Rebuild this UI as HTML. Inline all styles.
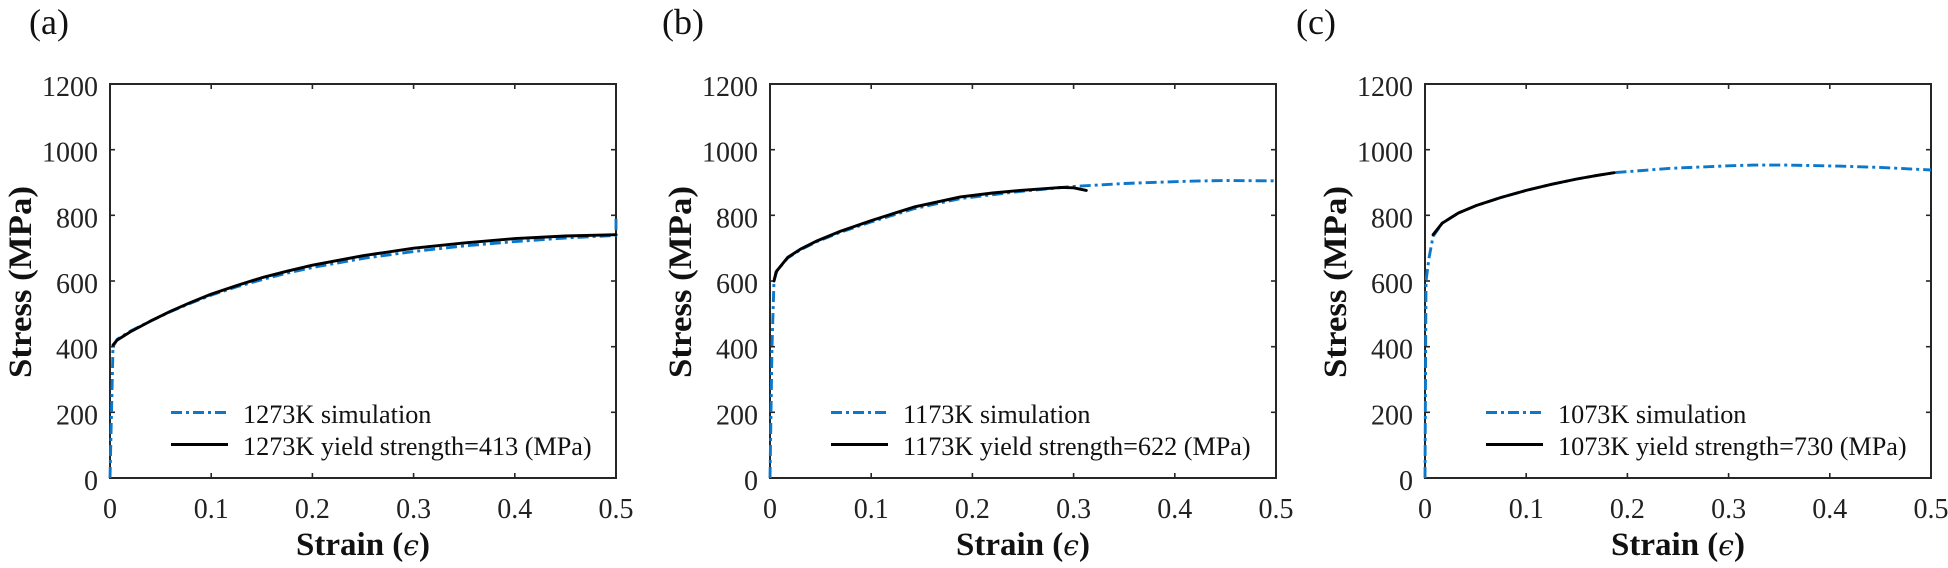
<!DOCTYPE html>
<html>
<head>
<meta charset="utf-8">
<style>
  html, body { margin: 0; padding: 0; background: #ffffff; }
  svg { display: block; }
  text { font-family: "Liberation Serif", "DejaVu Serif", serif; fill: #222; }
  .tk { font-size: 28px; }
  .lg { font-size: 26.2px; fill: #111; }
  .ttl { font-size: 36px; fill: #111; }
  .lab { font-size: 33px; font-weight: bold; fill: #111; }
  .ax { fill: none; stroke: #262626; stroke-width: 2; }
  .tick { stroke: #262626; stroke-width: 1.6; }
  .blk { fill: none; stroke: #000; stroke-width: 2.9; stroke-linejoin: round; stroke-linecap: round; }
  .blu { fill: none; stroke: #0b78cc; stroke-width: 2.9; stroke-dasharray: 11 4 3 4; stroke-linejoin: round; }
</style>
</head>
<body>
<svg width="1948" height="568" viewBox="0 0 1948 568" xmlns="http://www.w3.org/2000/svg">
  <defs>
    <g id="frame">
      <g class="tick">
        <line x1="0" y1="412.3" x2="5" y2="412.3"/><line x1="506" y1="412.3" x2="501" y2="412.3"/>
        <line x1="0" y1="346.7" x2="5" y2="346.7"/><line x1="506" y1="346.7" x2="501" y2="346.7"/>
        <line x1="0" y1="281" x2="5" y2="281"/><line x1="506" y1="281" x2="501" y2="281"/>
        <line x1="0" y1="215.3" x2="5" y2="215.3"/><line x1="506" y1="215.3" x2="501" y2="215.3"/>
        <line x1="0" y1="149.7" x2="5" y2="149.7"/><line x1="506" y1="149.7" x2="501" y2="149.7"/>
        <line x1="101.2" y1="478" x2="101.2" y2="473"/><line x1="101.2" y1="84" x2="101.2" y2="89"/>
        <line x1="202.4" y1="478" x2="202.4" y2="473"/><line x1="202.4" y1="84" x2="202.4" y2="89"/>
        <line x1="303.6" y1="478" x2="303.6" y2="473"/><line x1="303.6" y1="84" x2="303.6" y2="89"/>
        <line x1="404.8" y1="478" x2="404.8" y2="473"/><line x1="404.8" y1="84" x2="404.8" y2="89"/>
      </g>
      <rect class="ax" x="0" y="84" width="506" height="394"/>
      <g class="tk" text-anchor="end">
        <text x="-12" y="490">0</text>
        <text x="-12" y="424.3">200</text>
        <text x="-12" y="358.7">400</text>
        <text x="-12" y="293">600</text>
        <text x="-12" y="227.3">800</text>
        <text x="-12" y="161.7">1000</text>
        <text x="-12" y="96">1200</text>
      </g>
      <g class="tk" text-anchor="middle">
        <text x="0" y="518">0</text>
        <text x="101.2" y="518">0.1</text>
        <text x="202.4" y="518">0.2</text>
        <text x="303.6" y="518">0.3</text>
        <text x="404.8" y="518">0.4</text>
        <text x="506" y="518">0.5</text>
      </g>
      <text class="lab" text-anchor="middle" x="253" y="555">Strain (<tspan font-style="italic" font-weight="normal" font-family="DejaVu Serif, Liberation Serif, serif" font-size="28px">ϵ</tspan>)</text>
      <text class="lab" text-anchor="middle" transform="translate(-79,282) rotate(-90)" textLength="192" lengthAdjust="spacingAndGlyphs">Stress (MPa)</text>
      <line class="blu" x1="61" y1="412.5" x2="118" y2="412.5"/>
      <line x1="61" y1="444.5" x2="118" y2="444.5" stroke="#000" stroke-width="2.9"/>
    </g>
  </defs>

  <!-- Panel (a) -->
  <text class="ttl" x="29" y="34">(a)</text>
  <g transform="translate(110,0)">
    <use href="#frame"/>
    <text class="lg" x="133" y="423">1273K simulation</text>
    <text class="lg" x="133" y="455">1273K yield strength=413 (MPa)</text>
  </g>
  <polyline class="blu" points="110,478 113,346.7 117.1,339.4 130.2,331.2 150.5,321.1 170.7,311.5 191,303 211.2,295.1 236.5,286.9 261.8,279.7 287.1,273.1 312.4,267.5 363,258.4 413.6,251.5 464.2,245.9 514.8,241.6 565.4,238 616,235.4 616,215.3"/>
  <polyline class="blk" points="113,345 117.1,340.1 130.2,331.9 150.5,321.1 170.7,311.2 191,302.3 211.2,294.1 236.5,285.6 261.8,277.7 287.1,271.2 312.4,265.2 363,255.7 413.6,248.2 464.2,242.9 514.8,238.6 565.4,236 616,234.7"/>

  <!-- Panel (b) -->
  <text class="ttl" x="662" y="34">(b)</text>
  <g transform="translate(770,0)">
    <use href="#frame"/>
    <text class="lg" x="133" y="423">1173K simulation</text>
    <text class="lg" x="133" y="455">1173K yield strength=622 (MPa)</text>
  </g>
  <polyline class="blu" points="770,478 772,346.7 774,280.7 777.1,270.5 787.7,258 800.4,249.8 817.6,241.3 840.8,232.1 871.2,221.9 913.7,208.8 960.3,198.6 1020,191.4 1073.6,186.4 1124.2,183.5 1188,181.2 1225.4,180.5 1276,180.9"/>
  <polyline class="blk" points="774,281 776.1,271.8 787.7,257.4 800.4,249.2 817.6,240.6 840.8,231.1 871.2,220.6 913.7,207.1 960.3,196.9 992.6,193 1020,190.4 1061.5,187.4 1073.6,187.8 1086.3,190.4"/>

  <!-- Panel (c) -->
  <text class="ttl" x="1296" y="34">(c)</text>
  <g transform="translate(1425,0)">
    <use href="#frame"/>
    <text class="lg" x="133" y="423">1073K simulation</text>
    <text class="lg" x="133" y="455">1073K yield strength=730 (MPa)</text>
  </g>
  <polyline class="blu" points="1425,478 1426,281 1429,258 1433.1,236.3 1442.2,223.2 1458.4,213 1475.6,205.8 1500.9,197.5 1526.2,190.4 1551.5,184.3 1576.8,179 1597,175.4 1614.2,172.7 1668.9,168.4 1728.6,165.8 1752.9,165.1 1789.3,165.1 1837.9,166.1 1880.4,167.4 1931,170"/>
  <polyline class="blk" points="1433.1,234.7 1442.2,223.2 1458.4,213 1475.6,205.8 1500.9,197.5 1526.2,190.4 1551.5,184.3 1576.8,179 1597,175.4 1614.2,172.7"/>
</svg>
</body>
</html>
